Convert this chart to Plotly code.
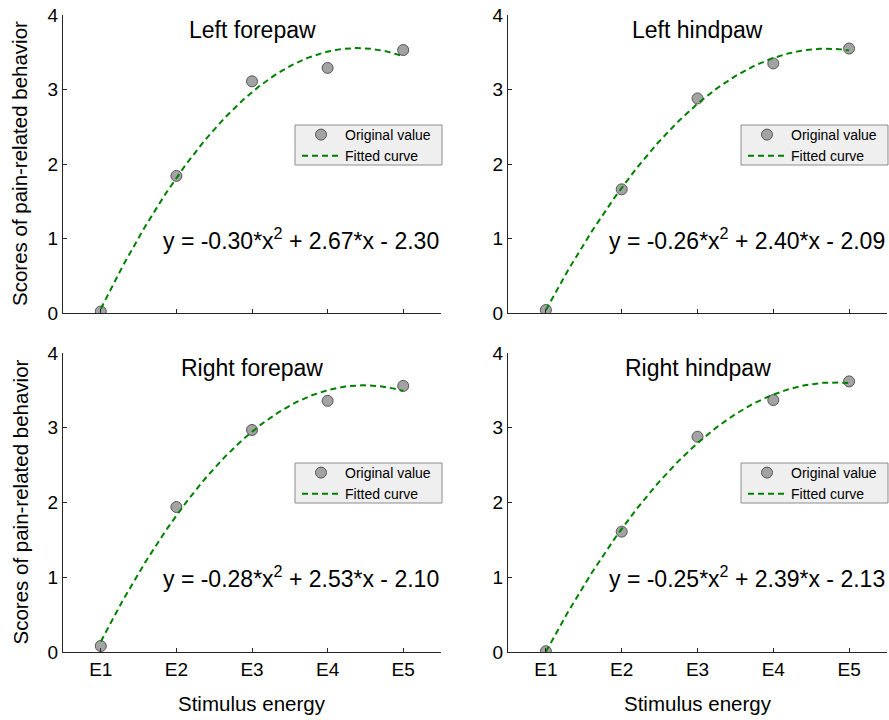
import numpy as np
import plotly.graph_objects as go

# ---------------- data ----------------
categories = ["E1", "E2", "E3", "E4", "E5"]
x_levels = [1, 2, 3, 4, 5]
panel_titles = ["Left forepaw", "Left hindpaw", "Right forepaw", "Right hindpaw"]
left_forepaw = [0.02, 1.84, 3.11, 3.29, 3.53]
left_hindpaw = [0.04, 1.66, 2.88, 3.35, 3.55]
right_forepaw = [0.08, 1.94, 2.97, 3.36, 3.56]
right_hindpaw = [0.01, 1.61, 2.88, 3.37, 3.62]
equations = [
    "y = -0.30*x<sup>2</sup> + 2.67*x - 2.30",
    "y = -0.26*x<sup>2</sup> + 2.40*x - 2.09",
    "y = -0.28*x<sup>2</sup> + 2.53*x - 2.10",
    "y = -0.25*x<sup>2</sup> + 2.39*x - 2.13",
]
y_ticks = [0, 1, 2, 3, 4]
series = [left_forepaw, left_hindpaw, right_forepaw, right_hindpaw]

# ---------------- layout geometry (window pixels) ----------------
W, H = 889, 720
xdom_px = [(63, 441), (508, 887)]
ydom_px = [(15, 313), (353, 652)]


def px(xw):
    return xw / W


def py(yw):
    return 1 - yw / H


AX = "#262626"
FONT = "Liberation Sans, Arial, sans-serif"

fig = go.Figure()
annotations = []
shapes = []
layout = dict(
    width=W, height=H,
    margin=dict(l=0, r=0, t=0, b=0, autoexpand=False),
    paper_bgcolor="white", plot_bgcolor="white",
    font=dict(family=FONT, color="#000000"),
    showlegend=True,
)

xfit = np.linspace(1, 5, 200)

for i, yvals in enumerate(series):
    r, c = divmod(i, 2)
    n = "" if i == 0 else str(i + 1)
    xa, ya = "x" + n, "y" + n
    x0, x1 = xdom_px[c]
    y0, y1 = ydom_px[r]
    bottom = (r == 1)

    layout["xaxis" + n] = dict(
        domain=[px(x0), px(x1)], range=[0.5, 5.5], anchor=ya,
        tickmode="array", tickvals=x_levels, ticktext=categories,
        showticklabels=bottom, ticks="inside", ticklen=4, tickcolor=AX,
        showline=True, linecolor=AX, linewidth=1, showgrid=False, zeroline=False,
        tickfont=dict(size=19, color="#000000"), fixedrange=True, automargin=False,
    )
    layout["yaxis" + n] = dict(
        domain=[py(y1), py(y0)], range=[0, 4], anchor=xa,
        tickmode="array", tickvals=y_ticks,
        ticks="inside", ticklen=4, tickcolor=AX,
        showline=True, linecolor=AX, linewidth=1, showgrid=False, zeroline=False,
        tickfont=dict(size=19, color="#000000"), fixedrange=True, automargin=False,
    )

    lg = "legend" + n
    fig.add_trace(go.Scatter(
        x=x_levels, y=yvals, mode="markers", name="Original value",
        marker=dict(size=11, color="#a3a3a3", line=dict(color="#555555", width=1)),
        xaxis=xa, yaxis=ya, legend=lg, showlegend=True,
    ))
    coef = np.polyfit(x_levels, yvals, 2)
    fig.add_trace(go.Scatter(
        x=xfit, y=np.polyval(coef, xfit), mode="lines", name="Fitted curve",
        line=dict(color="#008000", width=2, dash="6px,4px"),
        xaxis=xa, yaxis=ya, legend=lg, showlegend=True,
    ))

    # legend box (background) and legend entries
    bx0, bx1 = x1 - 146, x1 + 1
    by0, by1 = y0 + 110, y0 + 150
    shapes.append(dict(
        type="rect", xref="paper", yref="paper",
        x0=px(bx0), x1=px(bx1), y0=py(by1), y1=py(by0),
        fillcolor="#efefef", line=dict(color="#8c8c8c", width=1), layer="above",
    ))
    layout[lg] = dict(
        x=px(bx0 + 2), y=py(y0 + 104), xanchor="left", yanchor="top",
        xref="paper", yref="paper",
        bgcolor="rgba(0,0,0,0)", borderwidth=0, itemwidth=38,
        font=dict(size=14, color="#000000"), tracegroupgap=0,
    )

    # panel title
    annotations.append(dict(
        text=panel_titles[i], x=px((x0 + x1) / 2), xref="paper",
        y=3.8, yref=ya, xanchor="center", yanchor="middle",
        showarrow=False, font=dict(size=23, color="#000000"),
    ))
    # equation
    annotations.append(dict(
        text=equations[i], x=5.5, xref=xa, y=1.0, yref=ya,
        xanchor="right", yanchor="middle", showarrow=False,
        font=dict(size=23, color="#000000"),
    ))
    # y axis title
    if c == 0:
        annotations.append(dict(
            text="Scores of pain-related behavior", textangle=-90,
            x=px(20), xref="paper", y=py((y0 + y1) / 2), yref="paper",
            xanchor="center", yanchor="middle", showarrow=False,
            font=dict(size=20.5, color="#000000"),
        ))
    # x axis title
    if bottom:
        annotations.append(dict(
            text="Stimulus energy", x=px((x0 + x1) / 2), xref="paper",
            y=py(703), yref="paper", xanchor="center", yanchor="middle",
            showarrow=False, font=dict(size=20.5, color="#000000"),
        ))

layout["annotations"] = annotations
layout["shapes"] = shapes
fig.update_layout(**layout)
fig.write_html(
    "out.html",
    config={"displayModeBar": False},
    post_script="document.body.style.margin='0px';document.body.style.overflow='hidden';",
)
